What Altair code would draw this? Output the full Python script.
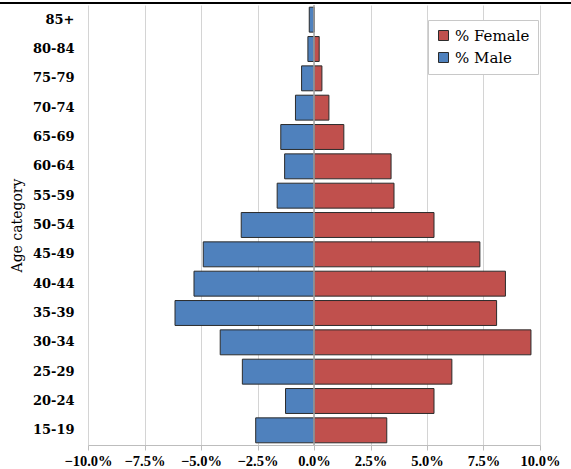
import altair as alt
import pandas as pd

ages = ["15-19", "20-24", "25-29", "30-34", "35-39", "40-44", "45-49", "50-54",
        "55-59", "60-64", "65-69", "70-74", "75-79", "80-84", "85+"]
male = [-2.58, -1.26, -3.17, -4.15, -6.15, -5.31, -4.90, -3.22,
        -1.63, -1.30, -1.47, -0.82, -0.55, -0.27, -0.21]
female = [3.22, 5.31, 6.10, 9.60, 8.08, 8.47, 7.34, 5.31,
          3.54, 3.41, 1.32, 0.66, 0.35, 0.23, 0.0]
tick_values = [-10, -7.5, -5, -2.5, 0, 2.5, 5, 7.5, 10]

rows = []
for a, m, f in zip(ages, male, female):
    rows.append({"age": a, "sex": "% Female", "value": f / 100})
    rows.append({"age": a, "sex": "% Male", "value": m / 100})
df = pd.DataFrame(rows)

FONT = "DejaVu Serif"
XFONT = "Liberation Serif"
order = list(reversed(ages))

bars = alt.Chart(df).mark_bar(stroke="#2b2b2b", strokeWidth=1).encode(
    x=alt.X("value:Q",
            scale=alt.Scale(domain=[-0.1, 0.1], nice=False),
            axis=alt.Axis(values=[v / 100 for v in tick_values], format=".1%",
                          title=None, grid=True, gridColor="#D4D4D4",
                          domainColor="#BDBDBD", tickColor="#BDBDBD", tickSize=5,
                          labelOverlap=False, labelBound=False, labelFlush=False,
                          labelFont=XFONT, labelFontWeight="bold", labelFontSize=14.5,
                          labelColor="#000000", labelPadding=4)),
    y=alt.Y("age:N", sort=order,
            scale=alt.Scale(paddingInner=0.15, paddingOuter=0.075),
            axis=alt.Axis(title="Age category", ticks=False, domain=False,
                          labelFont=FONT, labelFontWeight="bold", labelFontSize=13,
                          labelColor="#000000", labelPadding=14,
                          titleFont=FONT, titleFontSize=14, titleFontWeight="normal",
                          titleColor="#000000", titlePadding=8)),
    color=alt.Color("sex:N",
                    scale=alt.Scale(domain=["% Female", "% Male"],
                                    range=["#C0504D", "#4F81BD"]),
                    legend=alt.Legend(title=None, orient="none", legendX=340, legendY=15,
                                      symbolType="square", symbolSize=100,
                                      symbolStrokeColor="#2b2b2b", symbolStrokeWidth=1,
                                      labelFont=FONT, labelFontSize=15, labelColor="#000000",
                                      strokeColor="#C8C8C8", fillColor="#FFFFFF",
                                      padding=8, rowPadding=6)),
)

zero = alt.Chart(pd.DataFrame({"x": [0.0]})).mark_rule(color="#A6A6A6", strokeWidth=1.5).encode(
    x="x:Q"
)

frame = alt.Chart(pd.DataFrame({"x": [0.0]})).mark_rule(color="#000000", strokeWidth=2).encode(
    x=alt.value(-88), x2=alt.value(483), y=alt.value(-2)
)

chart = alt.layer(bars, zero, frame).properties(
    width=452, height=440,
    padding={"left": 88, "top": 5, "right": 31, "bottom": 24},
    autosize=alt.AutoSizeParams(type="none"),
    background="#FFFFFF",
).configure_view(stroke=None)

chart.save("out.html", embed_options={"renderer": "svg", "actions": False})
